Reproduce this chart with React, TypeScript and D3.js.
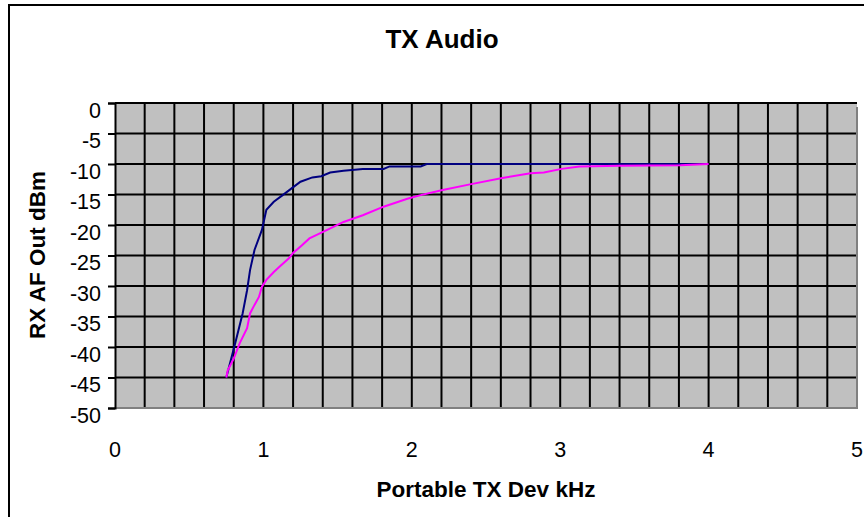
import React, { useEffect, useRef } from 'react';
import * as d3 from 'd3';

// Portable TX deviation (kHz) vs RX AF out (dBm)
const blueDev = [0.75, 0.81, 0.86, 0.89, 0.91, 0.94, 0.99, 1.02, 1.07, 1.13, 1.19, 1.25, 1.33, 1.39, 1.45, 1.54, 1.67, 1.81, 1.85, 2.06, 2.1, 2.5, 3.0, 3.5, 4.0];
const blueOut = [-45, -39.4, -34.5, -30.7, -27.4, -24.1, -20.8, -17.5, -16.2, -15.1, -14.0, -12.9, -12.2, -12.0, -11.4, -11.1, -10.8, -10.8, -10.4, -10.4, -10, -10, -10, -10, -10];

const pinkDev = [0.75, 0.76, 0.8, 0.84, 0.89, 0.91, 0.94, 0.97, 0.99, 1.02, 1.07, 1.11, 1.17, 1.2, 1.26, 1.31, 1.43, 1.54, 1.67, 1.81, 1.97, 2.06, 2.2, 2.4, 2.61, 2.8, 2.89, 3.01, 3.13, 3.4, 3.81, 4.0];
const pinkOut = [-45, -43.8, -41.9, -39.4, -36.9, -34.5, -33.1, -31.8, -30.1, -29.0, -27.7, -26.8, -25.5, -24.6, -23.3, -22.2, -20.8, -19.5, -18.4, -17.0, -15.7, -15.1, -14.3, -13.3, -12.3, -11.5, -11.4, -10.8, -10.4, -10.3, -10.2, -10];

const xTicks = [0, 1, 2, 3, 4, 5];
const yTicks = [0, -5, -10, -15, -20, -25, -30, -35, -40, -45, -50];

const App = () => {
  const svgRef = useRef<SVGSVGElement>(null);

  useEffect(() => {
    const svg = d3.select(svgRef.current);
    svg.selectAll('*').remove();
    const left = 115, top = 103, right = 857, bottom = 408;
    const font = 'Liberation Sans, Arial, sans-serif';

    // outer chart frame
    svg.append('rect')
      .attr('x', 9).attr('y', 5)
      .attr('width', 900).attr('height', 600)
      .attr('fill', 'white').attr('stroke', 'black').attr('stroke-width', 2);

    const x = d3.scaleLinear().domain([0, 5]).range([left, right]);
    const y = d3.scaleLinear().domain([-50, 0]).range([bottom, top]);

    svg.append('rect')
      .attr('x', left).attr('y', top)
      .attr('width', right - left).attr('height', bottom - top)
      .attr('fill', '#c0c0c0');

    const g = svg.append('g');
    // vertical grid every 0.2 kHz
    d3.range(1, 25).forEach(i => {
      const v = i * 0.2;
      g.append('line')
        .attr('x1', x(v)).attr('x2', x(v))
        .attr('y1', top).attr('y2', bottom)
        .attr('stroke', 'black').attr('stroke-width', 2);
    });
    yTicks.forEach(t => {
      if (t === -50) return;
      g.append('line')
        .attr('x1', left).attr('x2', right)
        .attr('y1', y(t)).attr('y2', y(t))
        .attr('stroke', 'black').attr('stroke-width', 2);
    });
    // shadowed right and bottom edges
    g.append('line').attr('x1', right).attr('x2', right).attr('y1', top + 4).attr('y2', bottom + 1)
      .attr('stroke', '#808080').attr('stroke-width', 2);
    g.append('line').attr('x1', left).attr('x2', right).attr('y1', bottom).attr('y2', bottom)
      .attr('stroke', '#808080').attr('stroke-width', 2);

    // y axis with outside ticks, labels hang just below each tick
    const yAxis = svg.append('g')
      .attr('transform', `translate(${left},0)`)
      .call(d3.axisLeft(y).tickValues(yTicks).tickSize(7).tickPadding(5).tickFormat(d => String(d)));
    yAxis.select('.domain').attr('stroke', 'black').attr('stroke-width', 2);
    yAxis.selectAll('.tick line').attr('stroke', 'black').attr('stroke-width', 2);
    yAxis.selectAll('text')
      .attr('font-family', font).attr('font-size', 21.5).attr('fill', 'black')
      .attr('dy', null).attr('y', 14).attr('x', -14);

    // x tick labels (no tick marks)
    svg.append('g').selectAll('text').data(xTicks).enter().append('text')
      .attr('x', d => x(d)).attr('y', 457)
      .attr('text-anchor', 'middle')
      .attr('font-family', font).attr('font-size', 21.5)
      .text(d => d);

    const line = d3.line<[number, number]>()
      .x(d => x(d[0]))
      .y(d => y(d[1]));

    svg.append('path')
      .attr('d', line(blueDev.map((d, i) => [d, blueOut[i]] as [number, number])))
      .attr('fill', 'none').attr('stroke', '#000080').attr('stroke-width', 2);
    svg.append('path')
      .attr('d', line(pinkDev.map((d, i) => [d, pinkOut[i]] as [number, number])))
      .attr('fill', 'none').attr('stroke', '#ff00ff').attr('stroke-width', 2);

    svg.append('text')
      .attr('x', 442).attr('y', 48)
      .attr('text-anchor', 'middle')
      .attr('font-family', font).attr('font-size', 26).attr('font-weight', 'bold')
      .text('TX Audio');
    svg.append('text')
      .attr('x', 486).attr('y', 497)
      .attr('text-anchor', 'middle')
      .attr('font-family', font).attr('font-size', 22.5).attr('font-weight', 'bold')
      .text('Portable TX Dev kHz');
    svg.append('text')
      .attr('transform', 'translate(45,255) rotate(-90)')
      .attr('text-anchor', 'middle')
      .attr('font-family', font).attr('font-size', 22.5).attr('font-weight', 'bold')
      .text('RX AF Out dBm');
  }, []);

  return (
    <svg ref={svgRef} width={864} height={517} style={{ position: 'absolute', left: 0, top: 0 }}></svg>
  );
};

export default App;
